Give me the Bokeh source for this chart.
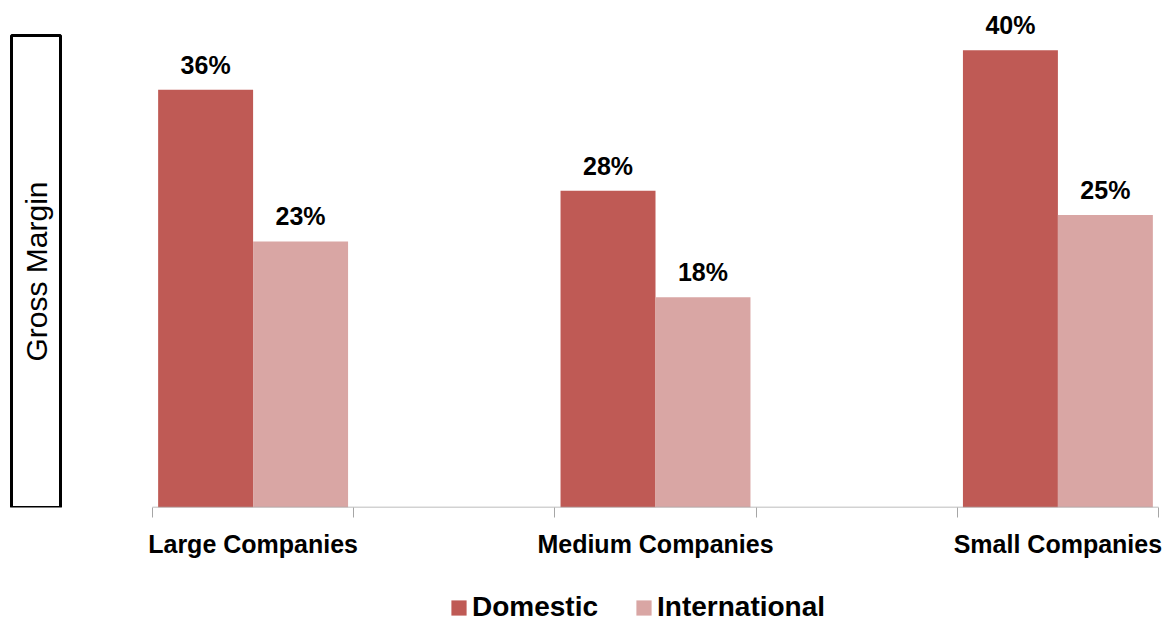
import math
from bokeh.plotting import figure
from bokeh.layouts import column
from bokeh.models import (ColumnDataSource, Range1d, FixedTicker, LabelSet, Label,
                          Legend, LegendItem)
from bokeh.core.properties import value
from bokeh.embed import file_html
from bokeh.resources import INLINE

categories = ["Large Companies", "Medium Companies", "Small Companies"]
series_names = ["Domestic", "International"]
domestic = [36.35, 27.57, 39.8]
international = [23.16, 18.29, 25.45]
colors = ["#BF5A55", "#D9A6A4"]

FONT = "Liberation Sans"

n_slots = 2 * len(categories) - 1          # empty slot between categories
centers = [2 * i + 0.5 for i in range(len(categories))]
bar_w = 0.472

# layout (pixels)
W, H = 1170, 623
MAIN_H = 560
plot_left, plot_right, plot_bottom = 152, 1158, 507
px_x = (plot_right - plot_left) / n_slots
px_y = 11.49
x_start = -plot_left / px_x
x_end = n_slots + (W - plot_right) / px_x
y_end = plot_bottom / px_y

p = figure(width=W, height=MAIN_H, output_backend="svg", toolbar_location=None,
           x_range=Range1d(x_start, x_end), y_range=Range1d(0, y_end),
           min_border_left=0, min_border_right=0, min_border_top=0,
           min_border_bottom=MAIN_H - plot_bottom)
p.background_fill_color = "white"
p.border_fill_color = "white"
p.outline_line_color = None
p.grid.visible = False
p.yaxis.visible = False

sources = []
for k, (vals, col) in enumerate(zip([domestic, international], colors)):
    off = (k - 0.5) * bar_w
    src = ColumnDataSource(dict(x=[c + off for c in centers], top=vals,
                                lab=[f"{round(v)}%" for v in vals]))
    sources.append(src)
    p.vbar(x="x", top="top", width=bar_w, source=src, fill_color=col,
           line_color=None)
    p.add_layout(LabelSet(x="x", y="top", text="lab", source=src, y_offset=16,
                          text_align="center", text_baseline="alphabetic",
                          text_font=value(FONT), text_font_size="25px",
                          text_font_style="bold", text_color="black"))

# category axis baseline spanning only the category slots
p.segment(x0=[0], y0=[0], x1=[n_slots], y1=[0], line_color="#A6A6A6",
          line_width=1.5)

ax = p.xaxis[0]
ax.ticker = FixedTicker(ticks=centers, minor_ticks=list(range(n_slots + 1)))
ax.major_label_overrides = {c: n for c, n in zip(centers, categories)}
ax.axis_line_color = None
ax.major_tick_out = 0
ax.major_tick_in = 0
ax.minor_tick_out = 10
ax.minor_tick_in = 0
ax.minor_tick_line_color = "#A6A6A6"
ax.major_label_text_font = FONT
ax.major_label_text_font_size = "25px"
ax.major_label_text_font_style = "bold"
ax.major_label_text_color = "black"
ax.major_label_standoff = 12

ylab = Label(x=35.5, y=plot_bottom - 271, x_units="screen", y_units="screen",
             text="Gross Margin", angle=math.pi / 2, text_align="center",
             text_baseline="middle", text_font=FONT, text_font_size="30px",
             text_color="black", border_line_color="black",
             border_line_width=3, background_fill_color="white",
             padding=(146, 8))
p.add_layout(ylab)

# legend strip below the chart (hidden copies of the series as legend proxies)
LEG_H = H - MAIN_H
q = figure(width=W, height=LEG_H, output_backend="svg", toolbar_location=None,
           x_range=Range1d(x_start, x_end), y_range=Range1d(0, 1),
           min_border_left=0, min_border_right=0, min_border_top=0,
           min_border_bottom=0)
q.axis.visible = False
q.grid.visible = False
q.outline_line_color = None
q.background_fill_color = "white"
q.border_fill_color = "white"
proxies = []
for s, c in zip(sources, colors):
    r = q.vbar(x="x", top="top", width=bar_w, source=s, fill_color=c,
               line_color=None)
    r.visible = False
    proxies.append(r)
legend = Legend(items=[LegendItem(label=n, renderers=[r])
                       for n, r in zip(series_names, proxies)],
                orientation="horizontal", location=(449, 0),
                label_text_font=FONT, label_text_font_size="28px",
                label_text_font_style="bold", label_text_color="black",
                glyph_width=19, glyph_height=19,
                label_standoff=4, spacing=36, border_line_color=None,
                background_fill_alpha=0, inactive_fill_alpha=0,
                padding=0, margin=0)
q.add_layout(legend, "center")

layout = column(p, q, spacing=0)
open("out.html", "w").write(file_html(layout, INLINE))
